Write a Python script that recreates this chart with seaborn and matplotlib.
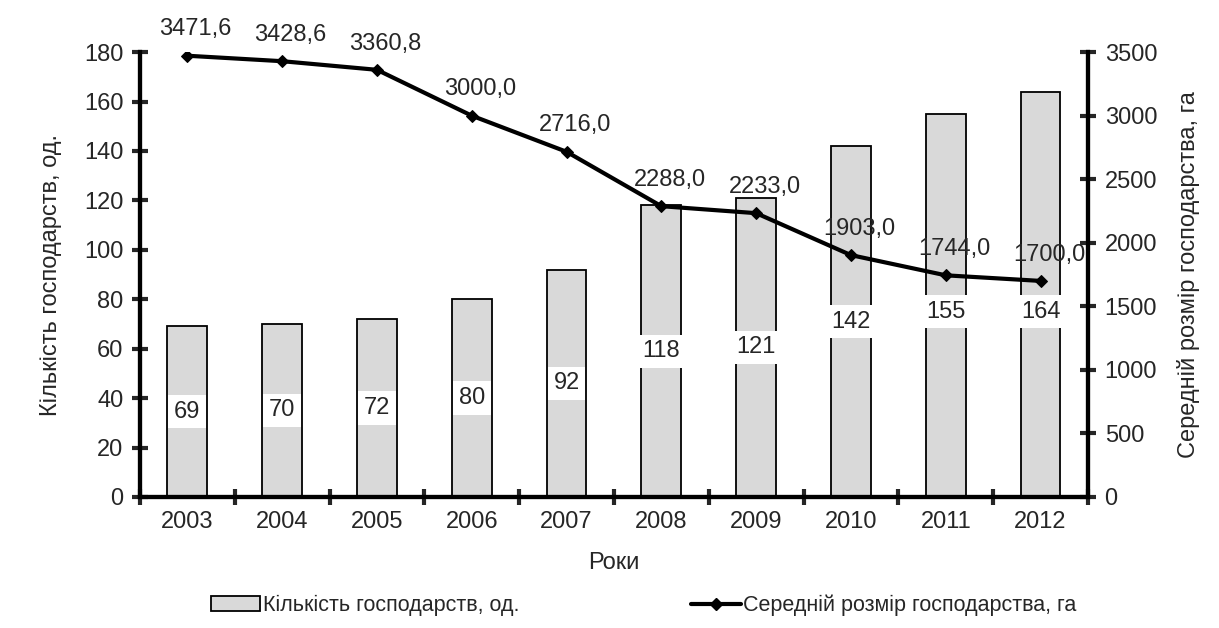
import numpy as np
import pandas as pd
import seaborn as sns
import matplotlib
matplotlib.use("Agg")
from matplotlib import pyplot as plt
from matplotlib.ticker import FixedLocator, MultipleLocator

years = ["2003", "2004", "2005", "2006", "2007", "2008", "2009", "2010", "2011", "2012"]
farm_counts = [69, 70, 72, 80, 92, 118, 121, 142, 155, 164]
avg_sizes = [3471.6, 3428.6, 3360.8, 3000.0, 2716.0, 2288.0, 2233.0, 1903.0, 1744.0, 1700.0]

count_label = "Кількість господарств, од."
size_label = "Середній розмір господарства, га"

FS = 17

sns.set_theme(style="white")
plt.rcParams["font.family"] = ["Liberation Sans", "DejaVu Sans"]
plt.rcParams["font.size"] = FS

data = pd.DataFrame({"year": years, "count": farm_counts, "size": avg_sizes})

fig = plt.figure(figsize=(12.19, 6.28), dpi=100)
ax = fig.add_axes([0.1148, 0.2086, 0.7777, 0.7084])
ax2 = ax.twinx()

sns.barplot(data=data, x="year", y="count", ax=ax, color="#d9d9d9",
            edgecolor="black", linewidth=1.3, width=0.42, saturation=1)
x = np.arange(len(years))
sns.lineplot(x=x, y=data["size"], ax=ax2, color="black", linewidth=3,
             marker="D", markersize=6, markeredgecolor="black")

ax.set_xlim(-0.5, len(years) - 0.5)
ax.set_ylim(0, 180)
ax2.set_ylim(0, 3500)
ax.yaxis.set_major_locator(MultipleLocator(20))
ax2.yaxis.set_major_locator(MultipleLocator(500))

# bar labels with white background, mid-bar but kept below the line
for xi, val in zip(x, farm_counts):
    ax.text(xi, min(val / 2, 75), str(val), ha="center", va="center", fontsize=FS,
            bbox=dict(facecolor="white", edgecolor="none", pad=4))

for xi, val in zip(x, avg_sizes):
    ax2.annotate(f"{val:.1f}".replace(".", ","), (xi, val), xytext=(6, 11),
                 textcoords="offset points", ha="center", va="bottom", fontsize=FS)

for a in (ax, ax2):
    a.spines["top"].set_visible(False)
    for side in ("left", "right", "bottom"):
        a.spines[side].set_linewidth(3)
        a.spines[side].set_color("black")

ax.tick_params(axis="y", which="major", direction="inout", length=12, width=3,
               labelsize=FS, left=True, pad=6)
ax2.tick_params(axis="y", which="major", direction="inout", length=12, width=3,
                labelsize=FS, right=True, pad=6)
ax.xaxis.set_minor_locator(FixedLocator(np.arange(-0.5, len(years), 1.0)))
ax.tick_params(axis="x", which="major", length=0, labelsize=FS, pad=10)
ax.tick_params(axis="x", which="minor", direction="inout", length=12, width=3, bottom=True)

ax.set_xlabel("Роки", fontsize=FS, labelpad=14)
ax.set_ylabel(count_label, fontsize=FS, labelpad=16)
ax2.set_ylabel(size_label, fontsize=FS, labelpad=14)

handles = [
    plt.Rectangle((0, 0), 1, 1, facecolor="#d9d9d9", edgecolor="black", linewidth=1.3),
    plt.Line2D([0], [0], color="black", linewidth=3, marker="D", markersize=6),
]
fig.legend(handles, [count_label, size_label], loc="lower center",
           bbox_to_anchor=(0.528, -0.012), ncol=2, frameon=False, fontsize=15.5,
           columnspacing=8.0, handlelength=2.3, handletextpad=0.1)

fig.savefig("out.png", dpi=100)
